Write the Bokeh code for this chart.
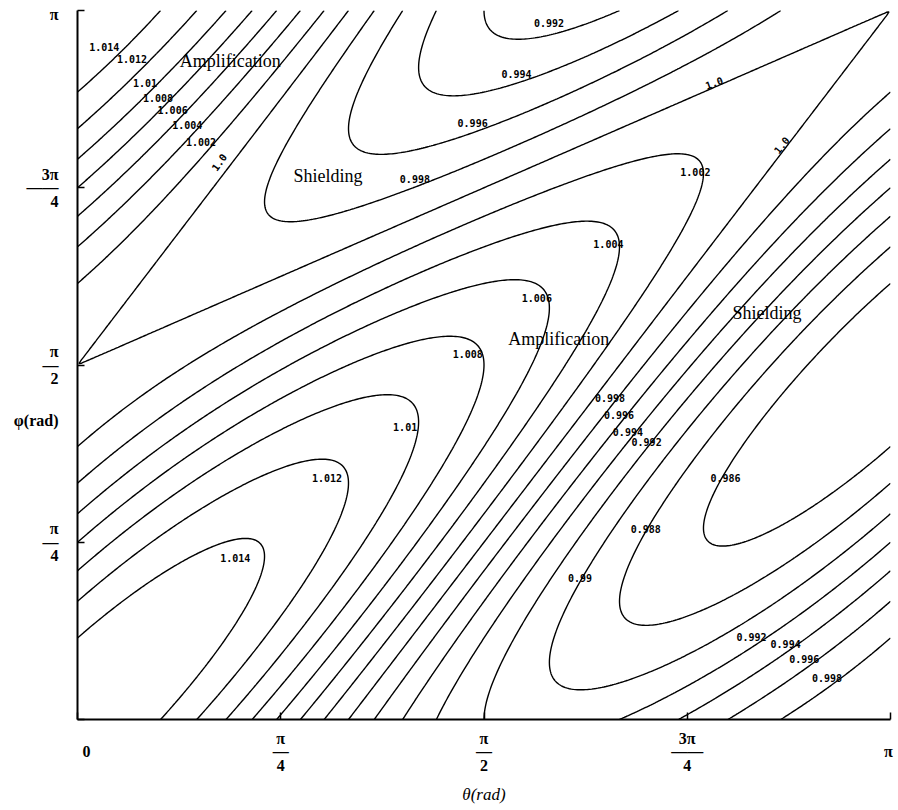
import numpy as np
from bokeh.plotting import figure
from bokeh.models import Range1d, FixedTicker, ColumnDataSource
from bokeh.core.properties import value
from bokeh.embed import file_html
from bokeh.resources import INLINE

PI = np.pi
Q = PI / 4  # axes are drawn in units of pi/4

# ---- data -------------------------------------------------------------
levels = [0.986, 0.988, 0.990, 0.992, 0.994, 0.996, 0.998, 1.000,
          1.002, 1.004, 1.006, 1.008, 1.010, 1.012, 1.014]
amplitude = 0.016          # half-range of the factor around 1
theta = np.linspace(0, PI, 401)
phi = np.linspace(0, PI, 401)
T, P = np.meshgrid(theta, phi)
factor = 1 + amplitude * (np.cos(P - T) ** 2 - np.sin(T / 2) ** 2)

# contour labels (text, theta/pi, phi/pi, angle)
clab_text = ["1.014", "1.012", "1.01", "1.008", "1.006", "1.004", "1.002", "1.0",
             "0.992", "0.994", "0.996", "0.998", "1.0", "1.0", "1.002", "1.004",
             "1.006", "1.008", "1.01", "1.012", "1.014",
             "0.998", "0.996", "0.994", "0.992", "0.986", "0.988", "0.99",
             "0.992", "0.994", "0.996", "0.998"]
clab_theta = [0.033, 0.067, 0.083, 0.099, 0.117, 0.135, 0.152, 0.174,
              0.580, 0.540, 0.486, 0.415, 0.783, 0.866, 0.760, 0.653,
              0.565, 0.480, 0.403, 0.307, 0.194,
              0.655, 0.666, 0.677, 0.700, 0.797, 0.699, 0.618,
              0.829, 0.871, 0.894, 0.922]
clab_phi = [0.948, 0.931, 0.898, 0.877, 0.859, 0.839, 0.814, 0.786,
            0.982, 0.911, 0.841, 0.763, 0.898, 0.810, 0.772, 0.671,
            0.595, 0.516, 0.413, 0.341, 0.228,
            0.454, 0.430, 0.405, 0.391, 0.341, 0.269, 0.199,
            0.117, 0.107, 0.085, 0.058]
clab_angle = [0, 0, 0, 0, 0, 0, 0, 0.95,
              0, 0, 0, 0, 0.35, 0.9, 0, 0,
              0, 0, 0, 0, 0,
              0, 0, 0, 0, 0, 0, 0,
              0, 0, 0, 0]

# region annotations (text, theta/pi, phi/pi)
region_text = ["Amplification", "Shielding", "Amplification", "Shielding"]
region_theta = [0.188, 0.308, 0.592, 0.848]
region_phi = [0.929, 0.767, 0.536, 0.574]

# tick marks (units of pi/4) and their labels
tick_marks = [0, 1, 2, 3, 4]
x_label_pos = [0.044, 1, 2, 3, 3.99]
x_label_txt = ["\n0", "π\n―\n4", "π\n―\n2", "3π\n――\n4", "\nπ"]
y_label_pos = [1, 1.687, 2, 3, 3.977]
y_label_txt = ["π\n―\n4", "φ(rad)", "π\n―\n2", "3π\n――\n4", "π"]

# ---- figure -----------------------------------------------------------
W, H = 898, 808
ML, MR, MT, MB = 77, 8, 10, 89

p = figure(width=W, height=H, x_range=Range1d(0, 4), y_range=Range1d(0, 4),
           output_backend="svg", toolbar_location=None,
           min_border_left=ML, min_border_right=MR, min_border_top=MT,
           min_border_bottom=MB)
p.outline_line_color = None
p.grid.visible = False
p.background_fill_color = "white"
p.border_fill_color = "white"

for ax, pos, txt in ((p.xaxis[0], x_label_pos, x_label_txt),
                     (p.yaxis[0], y_label_pos, y_label_txt)):
    ax.ticker = FixedTicker(ticks=pos, minor_ticks=tick_marks)
    ax.major_label_overrides = dict(zip(pos, txt))
    ax.major_tick_in = 0
    ax.major_tick_out = 0
    ax.minor_tick_in = 7
    ax.minor_tick_out = 0
    ax.minor_tick_line_width = 1.5
    ax.minor_tick_line_color = "black"
    ax.axis_line_width = 2
    ax.axis_line_color = "black"
    ax.major_label_text_font = "Liberation Serif"
    ax.major_label_text_font_size = "16px"
    ax.major_label_text_font_style = "bold"
    ax.major_label_text_color = "black"
    ax.major_label_text_line_height = 0.8

p.yaxis[0].major_label_standoff = 19
p.xaxis[0].major_label_standoff = 10
p.xaxis[0].axis_label = "θ(rad)"
p.xaxis[0].axis_label_text_font = "Liberation Serif"
p.xaxis[0].axis_label_text_font_size = "17px"
p.xaxis[0].axis_label_text_font_style = "italic"
p.xaxis[0].axis_label_text_color = "black"
p.xaxis[0].axis_label_standoff = 8

p.contour(theta / Q, phi / Q, factor, levels, line_color="black", line_width=1.4)

src = ColumnDataSource(dict(x=[t * 4 for t in clab_theta],
                            y=[f * 4 for f in clab_phi],
                            text=clab_text, angle=clab_angle))
p.text(x="x", y="y", text="text", angle="angle", source=src,
       text_font=value("DejaVu Sans Mono"), text_font_size="10px",
       text_font_style="bold", text_color="black",
       text_align="center", text_baseline="middle")

src2 = ColumnDataSource(dict(x=[t * 4 for t in region_theta],
                             y=[f * 4 for f in region_phi],
                             text=region_text))
p.text(x="x", y="y", text="text", source=src2,
       text_font=value("Liberation Serif"), text_font_size="18px",
       text_color="black", text_align="center", text_baseline="middle")

open("out.html", "w").write(file_html(p, INLINE))
